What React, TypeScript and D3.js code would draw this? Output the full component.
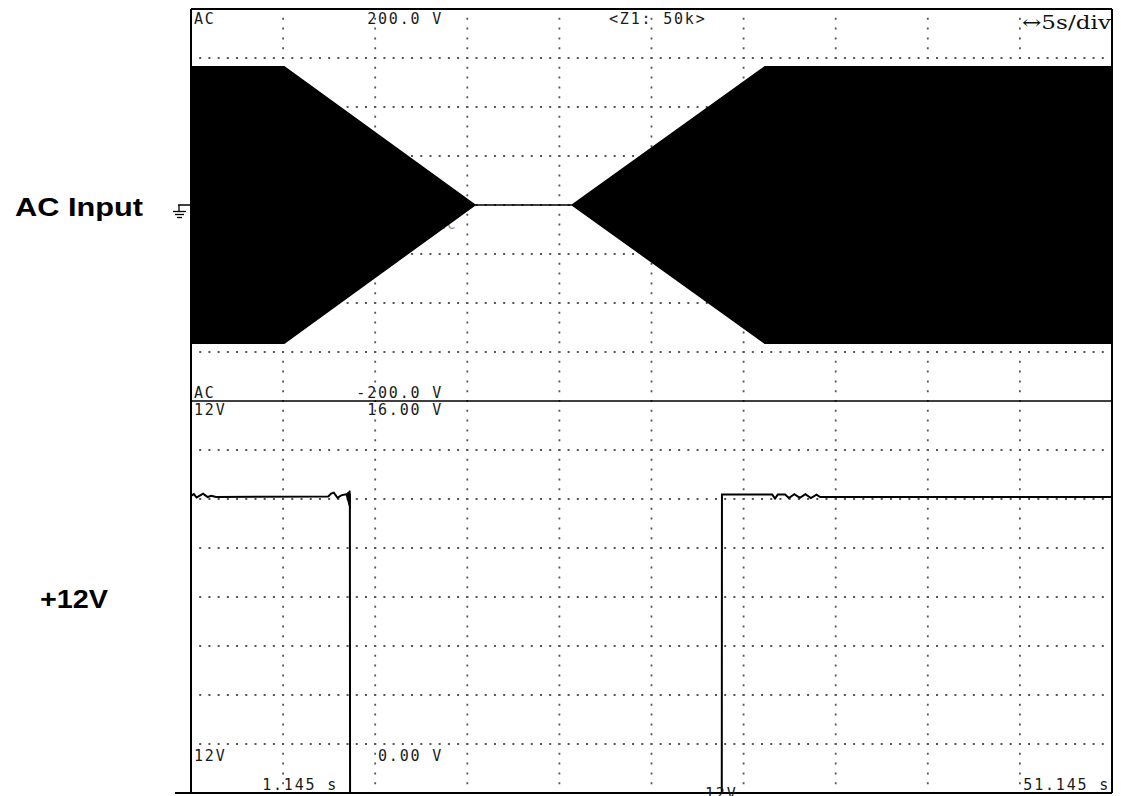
import React from "react";
import * as d3 from "d3";

// ---- Data ----
// Time axis (seconds) : left edge 1.145 s, right edge 51.145 s, 5 s/div
const timeDomain = [1.145, 51.145];
const timeGrid = [6.145, 11.145, 16.145, 21.145, 26.145, 31.145, 36.145, 41.145, 46.145];

// AC input envelope (peak volts) – keypoints of the amplitude envelope
const envTime = [1.145, 6.2, 16.55, 21.85, 32.3, 51.145];
const envAmp = [141, 141, 0, 0, 141, 141];

// AC channel vertical: -200 .. 200 V, 50 V/div
const acDomain = [-200, 200];
const acGrid = [-150, -100, -50, 0, 50, 100, 150];

// +12V channel vertical: 0 .. 16 V, 2 V/div
const v12Domain = [0, 16];
const v12Grid = [2, 4, 6, 8, 10, 12, 14];

// +12V trace
const v12Time = [1.145, 1.3, 1.45, 1.6, 1.8, 2.05, 2.25, 2.5, 8.6, 8.75, 8.9, 9.1, 9.3, 9.5, 9.77, 9.78, 29.96, 29.97, 32.7, 32.85, 33.0, 33.4, 33.6, 33.9, 34.2, 34.5, 34.8, 35.1, 35.3, 51.145];
const v12Vals = [12.13, 12.2, 12.06, 12.13, 12.22, 12.08, 12.13, 12.08, 12.1, 12.22, 12.26, 12.05, 12.15, 12.18, 12.18, 0, 0, 12.18, 12.18, 12.02, 12.18, 12.18, 12.04, 12.2, 12.05, 12.2, 12.04, 12.18, 12.08, 12.08];
// small spike at the switch-off edge
const spikeTime = [9.56, 9.78, 9.78];
const spikeVals = [12.2, 12.34, 11.6];

// Labels
const acTopLabel = "200.0 V";
const acBottomLabel = "-200.0 V";
const zoomLabel = "<Z1: 50k>";
const divLabel = "\u21945s/div";
const v12TopLabel = "16.00 V";
const v12BottomLabel = "0.00 V";
const startTimeLabel = "1.145 s";
const endTimeLabel = "51.145 s";

const W = 1121;
const H = 796;
const L = 191, R = 1112, T = 9, MID = 401, B = 793;

export default function App() {
  const x = d3.scaleLinear().domain(timeDomain).range([L, R]);
  const yAC = d3.scaleLinear().domain(acDomain).range([MID, T]);
  const y12 = d3.scaleLinear().domain(v12Domain).range([B, MID]);

  const envData = envTime.map((t, i) => ({ t, a: envAmp[i] }));
  const area = d3
    .area<{ t: number; a: number }>()
    .x((d) => x(d.t))
    .y0((d) => yAC(-d.a))
    .y1((d) => yAC(d.a));

  const v12Data = v12Time.map((t, i) => [x(t), y12(v12Vals[i])] as [number, number]);
  const line = d3.line();
  const spikePts = spikeTime.map((t, i) => [x(t), y12(spikeVals[i])] as [number, number]);

  const mono = {
    fontFamily: "'DejaVu Sans Mono', monospace",
    fontSize: 15,
    letterSpacing: 1.8,
    fill: "#1a1a1a",
  } as const;

  const dotH = { stroke: "#555", strokeWidth: 1.8, strokeDasharray: "2 7.21", strokeDashoffset: 1 };
  const dotV = { stroke: "#555", strokeWidth: 1.8, strokeDasharray: "2 7.8", strokeDashoffset: 1 };

  return (
    <svg width={W} height={H} style={{ position: "absolute", left: 0, top: 0, background: "#fff" }}>
      <rect x={0} y={0} width={W} height={H} fill="#fff" />
      {/* grid */}
      {timeGrid.map((t) => (
        <line key={"vg" + t} x1={x(t)} x2={x(t)} y1={T} y2={B} {...dotV} />
      ))}
      {acGrid.map((v) => (
        <line key={"ag" + v} x1={L} x2={R} y1={yAC(v)} y2={yAC(v)} {...dotH} />
      ))}
      {v12Grid.map((v) => (
        <line key={"bg" + v} x1={L} x2={R} y1={y12(v)} y2={y12(v)} {...dotH} />
      ))}

      {/* faint channel marker label hidden under the waveform */}
      <text x={436} y={229} {...mono} fill="#999">AC</text>

      {/* AC input envelope */}
      <path d={area(envData) || ""} fill="#000" stroke="#000" strokeWidth={1.6} />

      {/* ground marker */}
      <line x1={178} x2={L} y1={yAC(0)} y2={yAC(0)} stroke="#000" strokeWidth={1.5} />
      <line x1={179} x2={179} y1={yAC(0)} y2={yAC(0) + 6} stroke="#000" strokeWidth={1.3} />
      <line x1={173} x2={186} y1={yAC(0) + 6.5} y2={yAC(0) + 6.5} stroke="#000" strokeWidth={1.3} />
      <line x1={175} x2={184} y1={yAC(0) + 9.5} y2={yAC(0) + 9.5} stroke="#000" strokeWidth={1.3} />
      <line x1={177} x2={182} y1={yAC(0) + 12.5} y2={yAC(0) + 12.5} stroke="#000" strokeWidth={1.3} />

      {/* +12V trace */}
      <path d={line(v12Data) || ""} fill="none" stroke="#000" strokeWidth={2} />
      <path d={(line(spikePts) || "") + "Z"} fill="#000" stroke="#000" strokeWidth={1} />

      {/* frame */}
      <line x1={L} x2={R} y1={T} y2={T} stroke="#000" strokeWidth={2} />
      <line x1={L} x2={L} y1={T} y2={B} stroke="#000" strokeWidth={2} />
      <line x1={R} x2={R} y1={T} y2={B} stroke="#000" strokeWidth={2} />
      <line x1={L} x2={R} y1={MID} y2={MID} stroke="#000" strokeWidth={1.6} />
      <line x1={175} x2={R} y1={B} y2={B} stroke="#000" strokeWidth={2} />

      {/* scope text */}
      <text x={194} y={24} {...mono}>AC</text>
      <text x={443} y={24} textAnchor="end" {...mono}>{acTopLabel}</text>
      <text x={609} y={24} {...mono}>{zoomLabel}</text>
      <text
        x={1022}
        y={29}
        textLength={89}
        lengthAdjust="spacingAndGlyphs"
        style={{ fontFamily: "'DejaVu Serif', serif", fontSize: 19, fill: "#111" }}
      >
        {divLabel}
      </text>
      <text x={194} y={398} {...mono}>AC</text>
      <text x={443} y={398} textAnchor="end" {...mono}>{acBottomLabel}</text>
      <text x={194} y={415} {...mono}>12V</text>
      <text x={443} y={415} textAnchor="end" {...mono}>{v12TopLabel}</text>
      <text x={194} y={761} {...mono}>12V</text>
      <text x={443} y={761} textAnchor="end" {...mono}>{v12BottomLabel}</text>
      <text x={338} y={790} textAnchor="end" {...mono}>{startTimeLabel}</text>
      <text x={1110} y={790} textAnchor="end" {...mono}>{endTimeLabel}</text>
      <text x={705} y={799} {...mono}>12V</text>

      {/* channel names */}
      <text
        x={15}
        y={216}
        textLength={128}
        lengthAdjust="spacingAndGlyphs"
        style={{ fontFamily: "'Liberation Sans', Arial, sans-serif", fontWeight: 700, fontSize: 26.5, fill: "#000" }}
      >
        AC Input
      </text>
      <text
        x={40}
        y={608}
        textLength={68}
        lengthAdjust="spacingAndGlyphs"
        style={{ fontFamily: "'Liberation Sans', Arial, sans-serif", fontWeight: 700, fontSize: 26.5, fill: "#000" }}
      >
        +12V
      </text>
    </svg>
  );
}
